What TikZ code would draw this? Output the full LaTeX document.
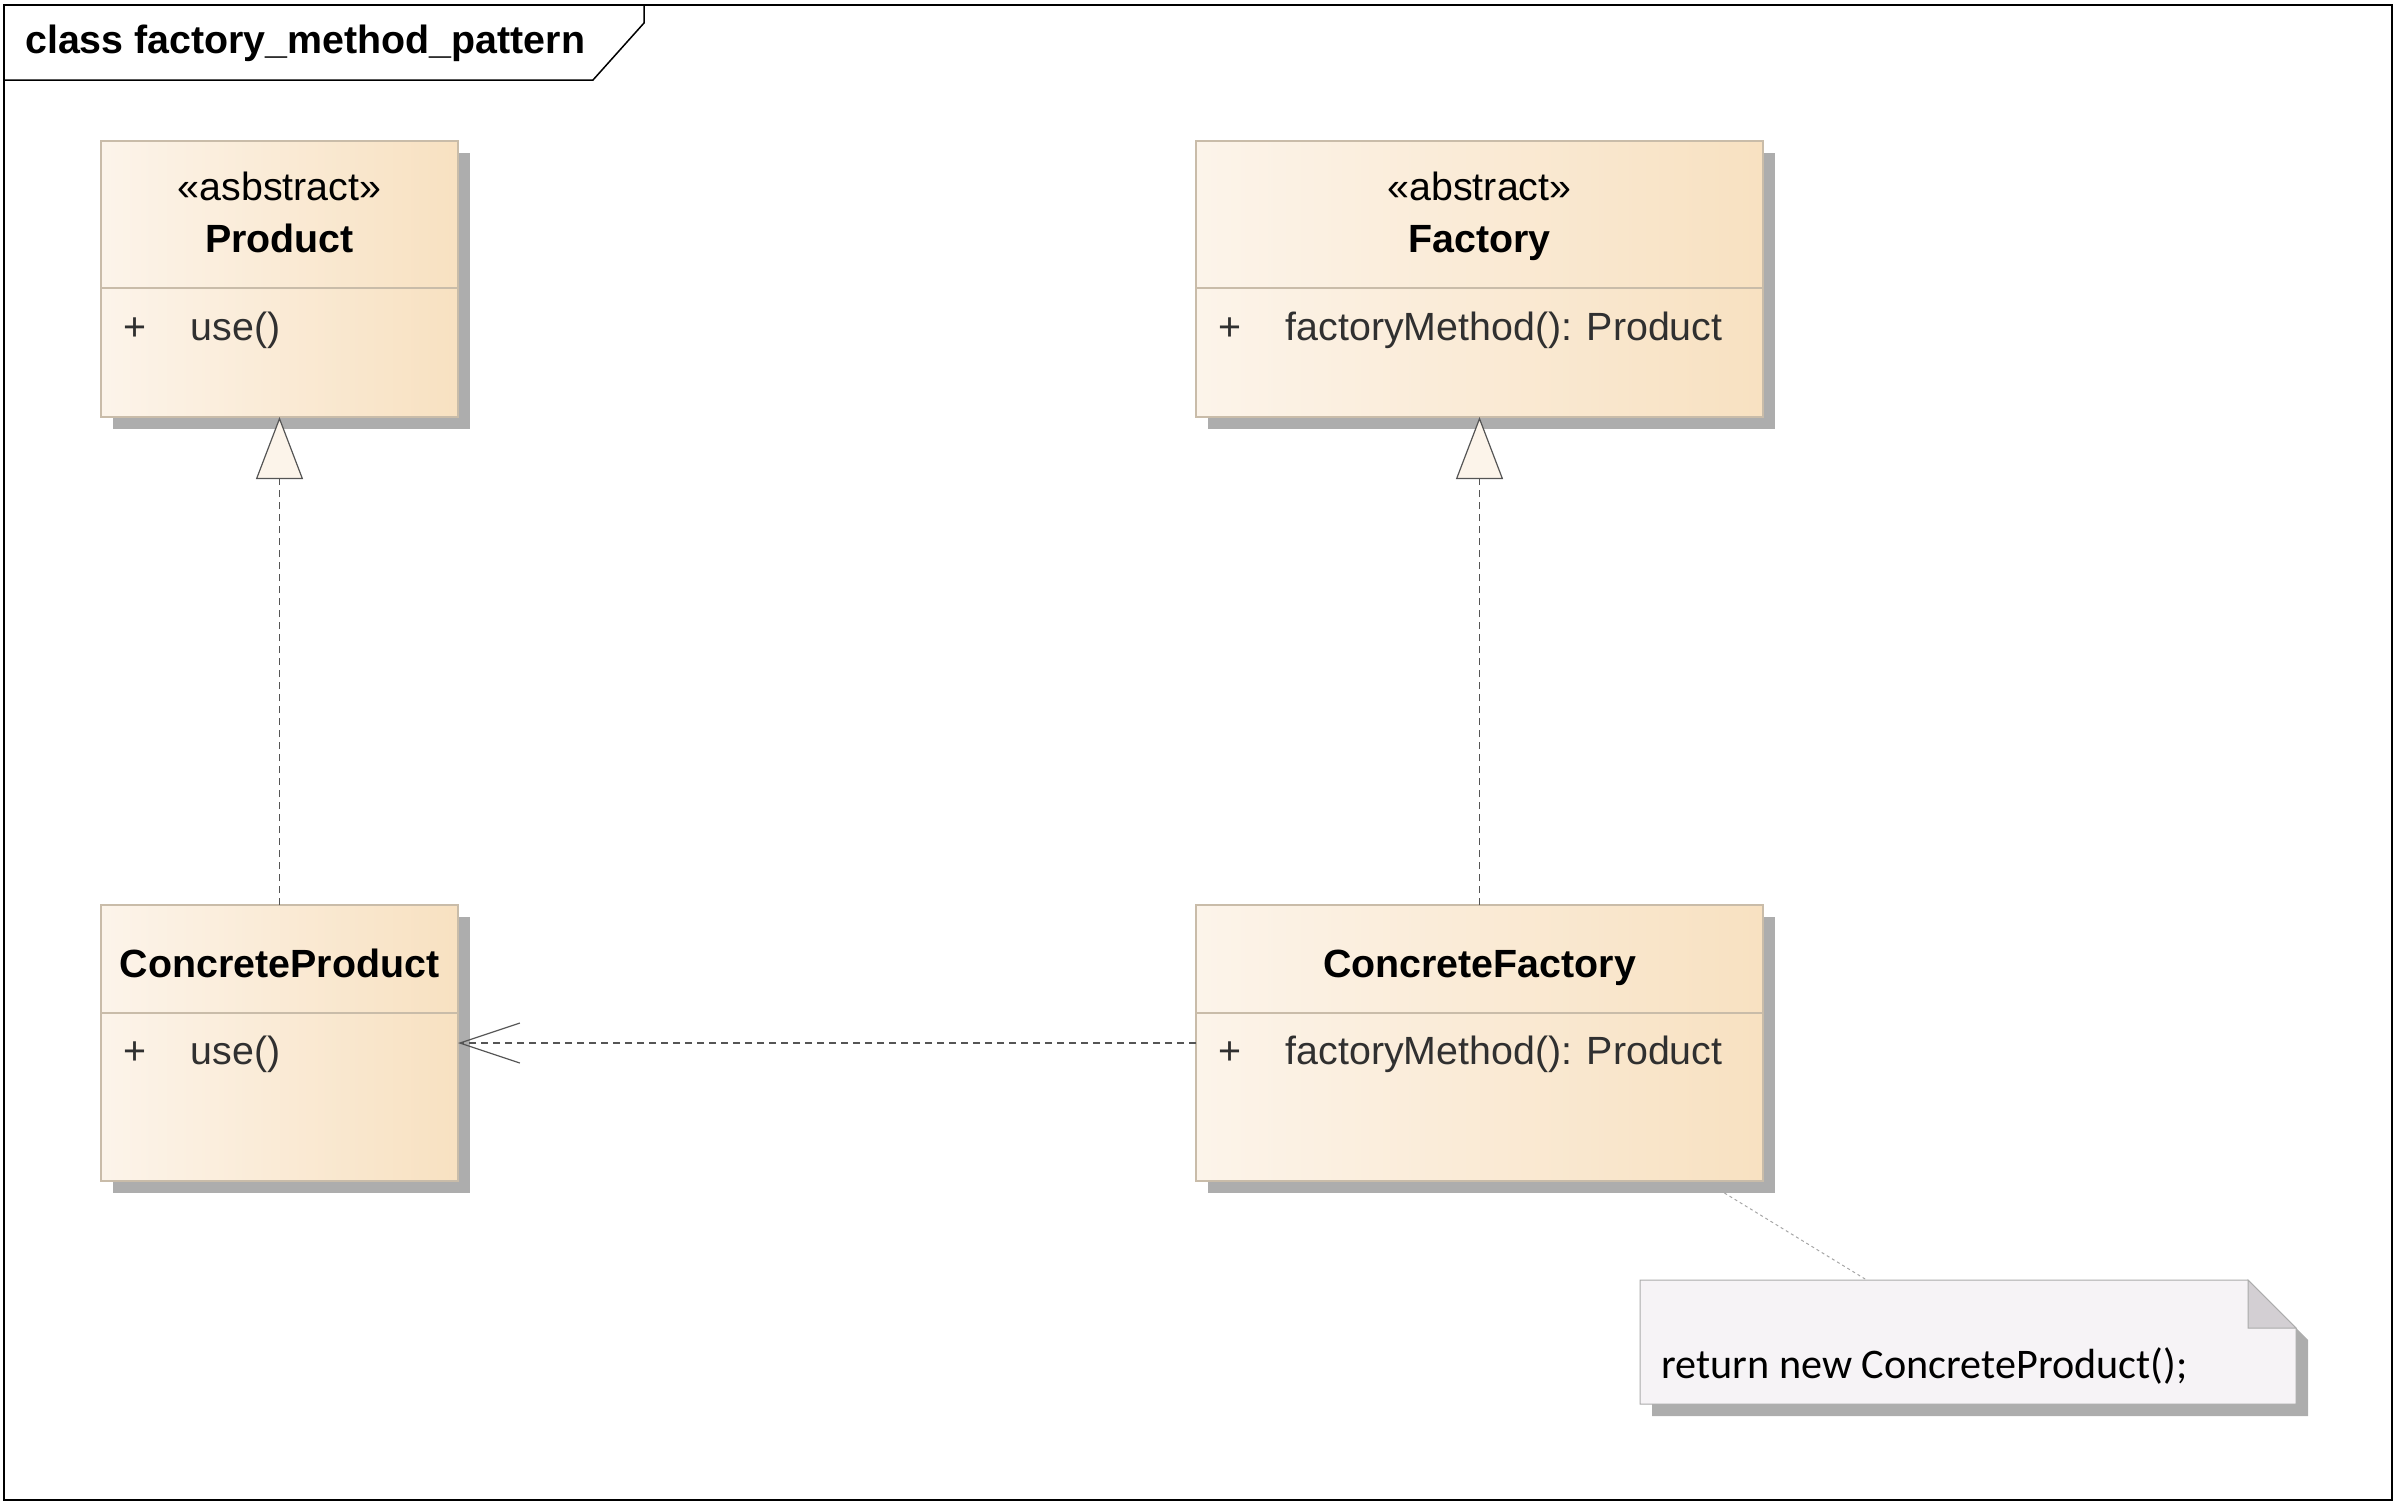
\documentclass[tikz,border=0pt]{standalone}
\usepackage{fontspec}
\setmainfont{Liberation Sans}
\newfontfamily\notefont{Carlito}
\usetikzlibrary{arrows.meta, positioning, shadows}
\definecolor{ink}{HTML}{303030}
\definecolor{edge}{HTML}{C9BCA9}
\definecolor{boxl}{HTML}{FCF4EA}
\definecolor{boxr}{HTML}{F8E1C1}
\definecolor{shadowgray}{HTML}{ADADAD}
\definecolor{wire}{HTML}{555555}
\definecolor{memo}{HTML}{F6F3F6}
\definecolor{fold}{HTML}{D3CFD3}
\definecolor{memoedge}{HTML}{ABABAB}

\begin{document}
\begin{tikzpicture}[x=1mm, y=-1mm, font=\fontsize{11.2}{13.4}\selectfont, node distance=2mm,
      cls/.style={draw=edge, line width=0.12mm, left color=boxl, right color=boxr, minimum height=27.6mm, inner sep=0pt, outer sep=0pt,
        drop shadow={shadow xshift=1.15mm, shadow yshift=-1.15mm, fill=shadowgray, opacity=1}},
      stereo/.style={anchor=base, inner sep=0pt},
      cname/.style={anchor=base, inner sep=0pt, font=\fontsize{11.2}{13.4}\selectfont\bfseries},
      member/.style={anchor=base west, inner sep=0pt, text=ink},
      sep/.style={draw=edge, line width=0.12mm},
      real/.style={draw=wire, line width=0.12mm, dash pattern=on 0.75mm off 0.45mm, -{Triangle[length=6.2mm, width=4.7mm, fill=boxl]}},
      dep/.style={draw=wire, line width=0.12mm, dash pattern=on 0.75mm off 0.45mm, -{Straight Barb[length=6mm, width=4mm]}},
      link/.style={draw=black!35, line width=0.1mm, dash pattern=on 0.3mm off 0.3mm}]
    \useasboundingbox (0,0) rectangle (239.6,150.4);
    % frame and its tab
    \draw[line width=0.2mm] (0.45,0.45) rectangle (239.15,149.95);
    \draw[line width=0.15mm] (0.45,8.0) -- (59.3,8.0) -- (64.4,2.3) -- (64.4,0.45);
    \node[anchor=base west, inner sep=0pt, font=\fontsize{11.2}{13.4}\selectfont\bfseries] (ttl) at (2.45,5.3) {class factory\_method\_pattern};
    % classes
    \node[cls, minimum width=35.7mm, anchor=north west] (p) at (10.1,14.1) {};
    \node[cls, minimum width=56.7mm, right=73.8mm of p] (f) {};
    \node[cls, minimum width=35.7mm, below=48.8mm of p] (cp) {};
    \node[cls, minimum width=56.7mm, below=48.8mm of f] (cf) {};
    \node[stereo] (p1) at ([yshift=-5.9mm]p.north) {«asbstract»};
    \node[cname] (p2) at ([yshift=-11.1mm]p.north) {Product};
    \draw[sep] ([yshift=-14.7mm]p.north west) -- ([yshift=-14.7mm]p.north east);
    \node[member] (p3) at ([xshift=2.2mm, yshift=-19.9mm]p.north west) {+};
    \node[member] (p4) at ([xshift=8.9mm, yshift=-19.9mm]p.north west) {use()};
    \node[stereo] (f1) at ([yshift=-5.9mm]f.north) {«abstract»};
    \node[cname] (f2) at ([yshift=-11.1mm]f.north) {Factory};
    \draw[sep] ([yshift=-14.7mm]f.north west) -- ([yshift=-14.7mm]f.north east);
    \node[member] (f3) at ([xshift=2.2mm, yshift=-19.9mm]f.north west) {+};
    \node[member] (f4) at ([xshift=8.9mm, yshift=-19.9mm]f.north west) {factoryMethod(): Product};
    \node[cname] (cp1) at ([yshift=-7.2mm]cp.north) {ConcreteProduct};
    \draw[sep] ([yshift=-10.8mm]cp.north west) -- ([yshift=-10.8mm]cp.north east);
    \node[member] (cp2) at ([xshift=2.2mm, yshift=-15.9mm]cp.north west) {+};
    \node[member] (cp3) at ([xshift=8.9mm, yshift=-15.9mm]cp.north west) {use()};
    \node[cname] (cf1) at ([yshift=-7.2mm]cf.north) {ConcreteFactory};
    \draw[sep] ([yshift=-10.8mm]cf.north west) -- ([yshift=-10.8mm]cf.north east);
    \node[member] (cf2) at ([xshift=2.2mm, yshift=-15.9mm]cf.north west) {+};
    \node[member] (cf3) at ([xshift=8.9mm, yshift=-15.9mm]cf.north west) {factoryMethod(): Product};
    % note
    \node[inner sep=0pt, outer sep=0pt, minimum width=65.6mm, minimum height=12.4mm, anchor=north west] (nt) at (164.0,128.0) {};
    \fill[shadowgray] ([xshift=1.2mm, yshift=-1.2mm]nt.north west) -- ([xshift=-3.6mm, yshift=-1.2mm]nt.north east)
      -- ([xshift=1.2mm, yshift=-6mm]nt.north east) -- ([xshift=1.2mm, yshift=-1.2mm]nt.south east)
      -- ([xshift=1.2mm, yshift=-1.2mm]nt.south west) -- cycle;
    \filldraw[fill=memo, draw=memoedge, line width=0.1mm] (nt.north west) -- ([xshift=-4.8mm]nt.north east) -- ([yshift=-4.8mm]nt.north east)
      -- (nt.south east) -- (nt.south west) -- cycle;
    \filldraw[fill=fold, draw=memoedge, line width=0.1mm] ([xshift=-4.8mm]nt.north east) -- ([xshift=-4.8mm, yshift=-4.8mm]nt.north east)
      -- ([yshift=-4.8mm]nt.north east) -- cycle;
    \node[anchor=base west, inner sep=0pt, font=\notefont\fontsize{12}{14}\selectfont] (nt1) at (166.1,137.8) {return new ConcreteProduct();};
    % connectors
    \draw[real] (cp) -- (p);
    \draw[real] (cf) -- (f);
    \draw[dep] (cf) -- (cp);
    \draw[link, shorten <=2.3mm] (cf) -- (nt);
  \end{tikzpicture}
\end{document}
